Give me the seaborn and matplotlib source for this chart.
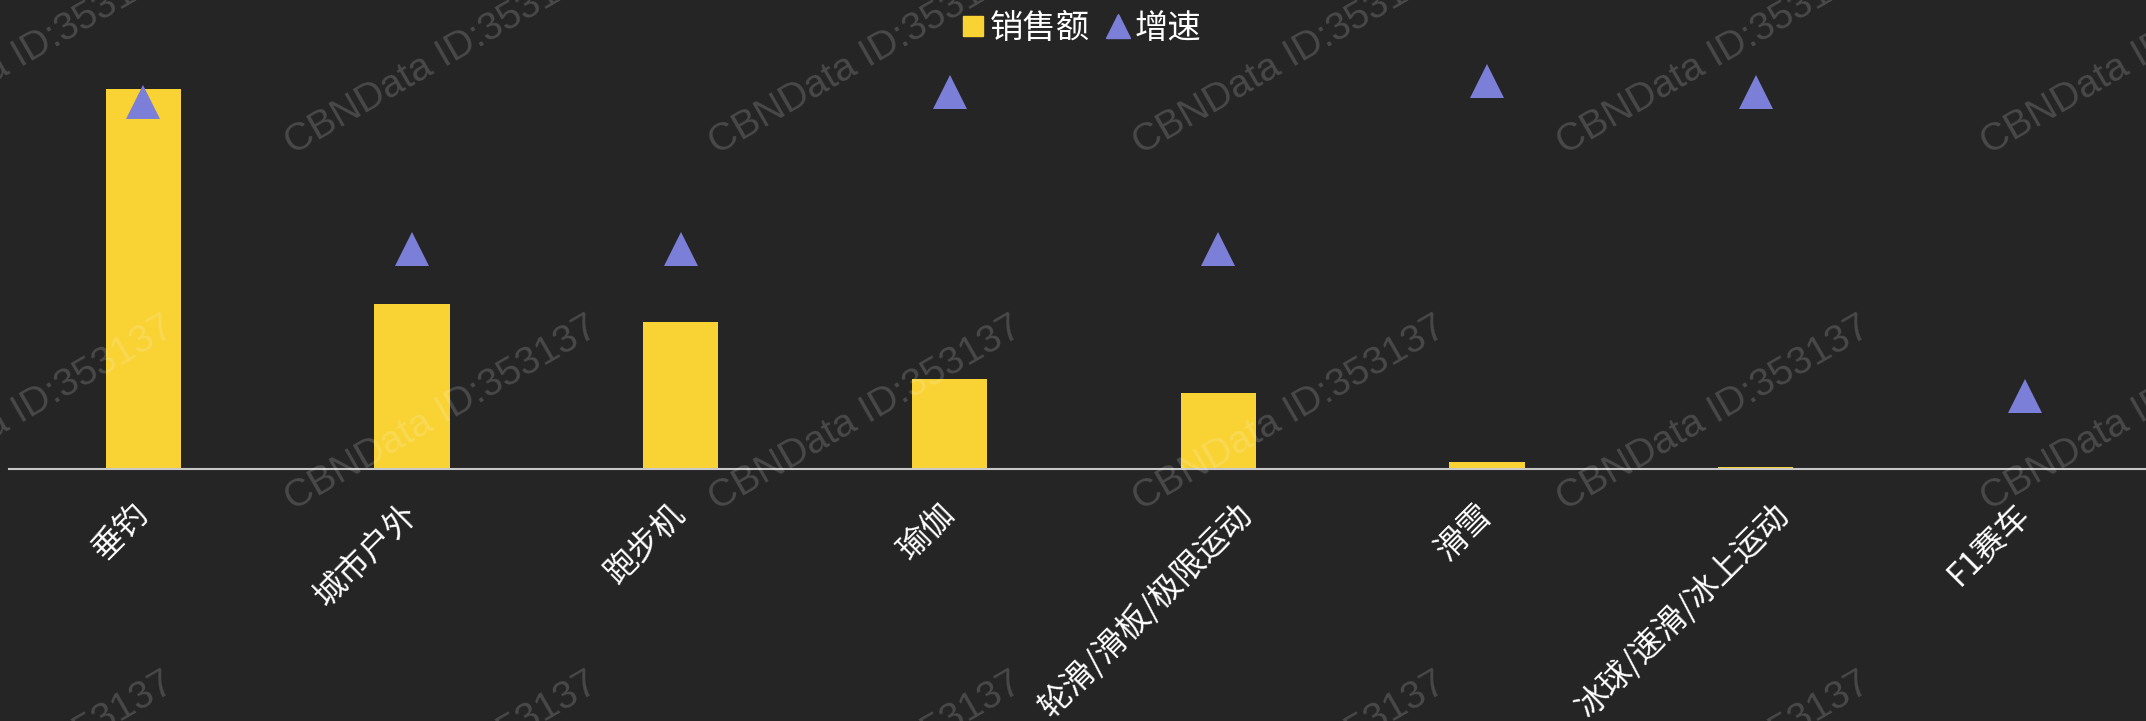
import numpy as np
import pandas as pd
import matplotlib
matplotlib.use('Agg')
import matplotlib.pyplot as plt
import matplotlib.transforms as mtransforms
import seaborn as sns
from matplotlib.lines import Line2D

categories = ['垂钓', '城市户外', '跑步机', '瑜伽', '轮滑/滑板/极限运动', '滑雪', '冰球/速滑/冰上运动', 'F1赛车']
sales = [100, 43.5, 38.8, 23.7, 20.1, 1.8, 0.6, 0]
growth = [167, 100, 100, 171.5, 100, 176.4, 171.6, 33.2]
legend_labels = ['销售额', '增速']
watermark = 'CBNData ID:353137'

BG = '#252525'
YELLOW = '#F9D233'
PURPLE = '#7B7FD8'
AXIS = '#c8c8c8'

sns.set_theme(style='dark')
plt.rcParams['font.family'] = ['Noto Sans CJK SC', 'DejaVu Sans']

W, H = 2146, 721
fig = plt.figure(figsize=(W / 100, H / 100), dpi=100, facecolor=BG)
ax = fig.add_axes([9 / W, 1 - 469 / H, (W - 9) / W, 469 / H])
ax.set_facecolor(BG)

df = pd.DataFrame({'cat': categories, 'sales': sales, 'growth': growth})
sns.barplot(data=df, x='cat', y='sales', ax=ax, color=YELLOW, width=0.28,
            saturation=1, order=categories, errorbar=None,
            linewidth=0, edgecolor='none')

ax2 = ax.twinx()
sns.pointplot(data=df, x='cat', y='growth', ax=ax2, color=PURPLE, order=categories,
              errorbar=None, marker='^', linestyle='none', markersize=24,
              markeredgewidth=0)

ax.set_ylim(0, 123.4)
ax2.set_ylim(0, 213.2)
ax.set_xlim(-0.5, 7.452)
ax2.set_xlim(-0.5, 7.452)

for a in (ax, ax2):
    a.set_xlabel('')
    a.set_ylabel('')
    a.set_yticks([])
    a.grid(False)
    for s in a.spines.values():
        s.set_visible(False)
ax.spines['bottom'].set_visible(True)
ax.spines['bottom'].set_color(AXIS)
ax.spines['bottom'].set_linewidth(1.5)

ax.set_xticks(range(len(categories)))
ax.set_xticklabels(categories, rotation=45, ha='right', va='center',
                   rotation_mode='anchor', color='white', fontsize=23.5)
ax.tick_params(axis='x', length=0, pad=29)
for lab in ax.get_xticklabels():
    if len(lab.get_text()) >= 8:
        lab.set_transform(lab.get_transform() +
                          mtransforms.ScaledTranslation(0.28, 0, fig.dpi_scale_trans))

handles = [Line2D([], [], marker='s', linestyle='none', color=YELLOW, markersize=14),
           Line2D([], [], marker='^', linestyle='none', color=PURPLE, markersize=17)]
fig.legend(handles, legend_labels, loc='center', bbox_to_anchor=(0.504, 0.961),
           ncol=2, frameon=False, fontsize=24, labelcolor='white',
           handletextpad=0.15, columnspacing=0.5, handlelength=0.7)

for j in (-1, 0, 1):
    for k in range(-2, 6):
        fig.text((441 + 424 * k) / W, 1 - (414 + 356 * j) / H, watermark,
                 rotation=30, rotation_mode='anchor', ha='center', va='center',
                 fontsize=28, color='white', alpha=0.17, family='Liberation Sans',
                 zorder=10)

fig.savefig('out.png', dpi=100, facecolor=BG)
